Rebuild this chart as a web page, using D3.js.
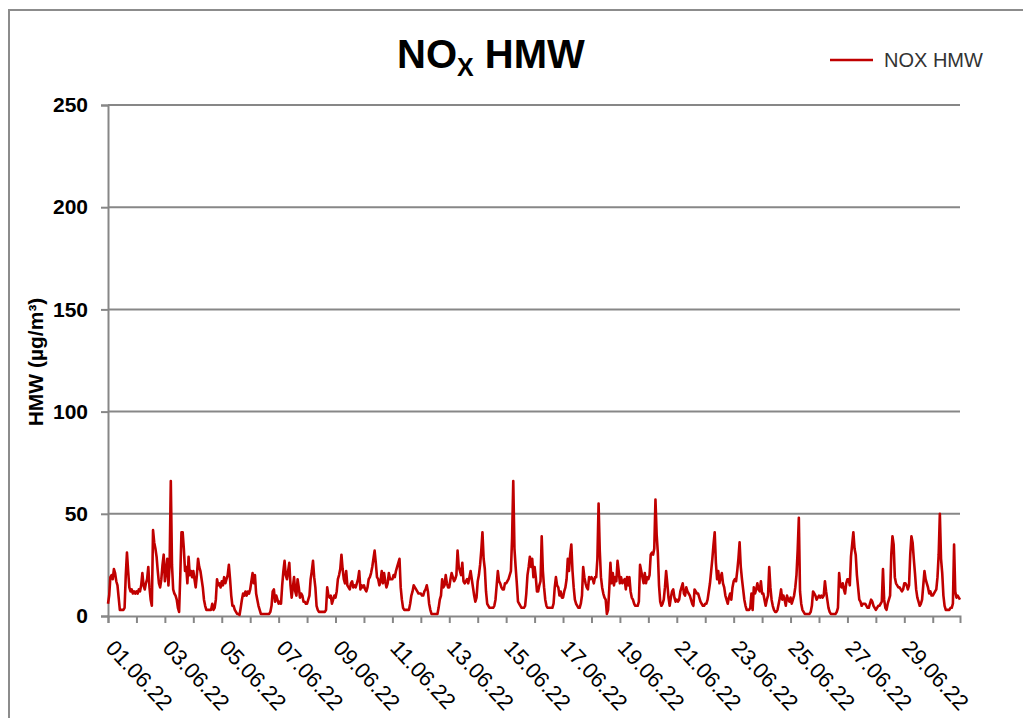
<!DOCTYPE html>
<html>
<head>
<meta charset="utf-8">
<script src="https://cdn.jsdelivr.net/npm/d3@7"></script>
<style>
  body { margin: 0; background: #fff; }
  svg { display: block; font-family: "Liberation Sans", Arial, sans-serif; }
</style>
</head>
<body>
<script>
// hourly NOx means, 01.06.22 00:00 onwards, one row per day
const startDate = "2022-06-01T00:00:00Z";
const seriesName = "NOX HMW";
const yTicks = [0, 50, 100, 150, 200, 250];
const labelEveryDays = 2;
const noxHourly = [
  6, 10, 19, 20, 18, 23, 21, 17, 15, 9, 3, 3, 3, 3, 4, 20, 31, 22, 14, 12, 13, 11, 12, 11,
  12, 11, 13, 12, 15, 21, 15, 13, 16, 18, 24, 14, 8, 5, 42, 36, 33, 29, 22, 16, 14, 18, 25, 30,
  17, 22, 28, 15, 25, 66, 25, 13, 11, 10, 8, 4, 2, 20, 41, 41, 33, 22, 24, 16, 29, 20, 22, 19,
  22, 18, 14, 20, 28, 24, 22, 18, 14, 8, 5, 3, 3, 3, 3, 3, 6, 3, 4, 8, 18, 15, 16, 14,
  17, 15, 19, 16, 18, 20, 25, 18, 10, 5, 5, 3, 2, 1, 1, 0.5, 4, 8, 11, 10, 12, 10, 12, 11,
  13, 17, 21, 16, 20, 11, 8, 5, 3, 1, 1, 1, 1, 1, 1, 1, 1, 2, 5, 12, 13, 7, 10, 8,
  6, 7, 6, 15, 22, 27, 20, 18, 22, 26, 15, 9, 14, 19, 12, 10, 18, 14, 9, 11, 10, 7, 7, 6,
  6, 8, 10, 18, 22, 27, 19, 14, 5, 3, 2, 2, 2, 2, 2, 2, 3, 14, 10, 9, 10, 6, 8, 10,
  9, 12, 18, 20, 23, 30, 23, 18, 16, 22, 15, 14, 13, 16, 17, 14, 15, 14, 16, 18, 22, 13, 15, 14,
  15, 13, 12, 14, 18, 19, 21, 24, 28, 32, 26, 19, 18, 15, 17, 22, 16, 21, 17, 14, 16, 21, 18, 18,
  18, 20, 19, 22, 24, 26, 28, 14, 8, 4, 3, 3, 3, 3, 3, 6, 10, 12, 15, 14, 13, 12, 11, 11,
  11, 10, 10, 12, 13, 15, 12, 6, 3, 1, 1, 1, 1, 1, 1, 4, 8, 10, 18, 14, 15, 20, 16, 14,
  14, 18, 21, 19, 17, 18, 20, 32, 24, 22, 20, 26, 17, 16, 17, 18, 16, 19, 22, 18, 14, 10, 7, 9,
  17, 20, 25, 32, 41, 28, 23, 12, 6, 5, 4, 4, 4, 4, 5, 8, 15, 22, 17, 16, 14, 13, 13, 16,
  16, 17, 18, 20, 22, 38, 66, 33, 24, 16, 7, 6, 5, 4, 4, 4, 5, 11, 20, 24, 29, 24, 28, 19,
  24, 19, 12, 12, 15, 17, 39, 22, 14, 8, 5, 4, 4, 4, 4, 4, 6, 14, 19, 15, 14, 10, 12, 9,
  9, 12, 14, 18, 28, 22, 30, 35, 22, 14, 8, 6, 5, 4, 4, 6, 10, 24, 19, 16, 14, 13, 19, 18,
  19, 18, 16, 19, 19, 28, 55, 32, 19, 14, 11, 9, 8, 1, 3, 13, 26, 16, 21, 15, 19, 17, 27, 22,
  16, 19, 16, 17, 18, 13, 19, 15, 19, 12, 9, 8, 6, 5, 5, 5, 7, 25, 22, 19, 16, 21, 16, 19,
  18, 20, 30, 31, 30, 33, 57, 40, 31, 15, 7, 5, 6, 8, 14, 22, 16, 9, 5, 9, 12, 13, 9, 7,
  8, 7, 8, 12, 14, 16, 11, 10, 14, 12, 11, 10, 8, 6, 5, 13, 12, 11, 11, 9, 7, 6, 5, 5,
  6, 6, 8, 12, 16, 22, 28, 35, 41, 26, 18, 22, 16, 19, 21, 16, 14, 10, 8, 6, 9, 11, 8, 14,
  17, 18, 17, 22, 28, 36, 24, 18, 13, 8, 5, 3, 3, 3, 4, 11, 3, 14, 11, 13, 16, 13, 12, 17,
  11, 11, 8, 5, 8, 10, 24, 14, 8, 5, 3, 2, 2, 3, 6, 9, 13, 8, 10, 8, 5, 10, 8, 7,
  9, 6, 8, 10, 14, 20, 32, 48, 12, 6, 3, 2, 1, 1, 1, 1, 1, 2, 5, 12, 11, 10, 8, 9,
  10, 9, 10, 9, 10, 17, 12, 8, 4, 2, 1, 1, 1, 1, 1, 2, 4, 21, 15, 14, 16, 13, 11, 16,
  18, 18, 15, 29, 35, 41, 33, 30, 20, 14, 8, 7, 5, 6, 6, 6, 5, 4, 4, 6, 8, 7, 5, 4,
  3, 4, 5, 5, 6, 7, 23, 8, 4, 3, 6, 8, 10, 30, 39, 35, 19, 16, 15, 14, 14, 13, 12, 13,
  16, 16, 15, 13, 15, 30, 39, 36, 28, 21, 13, 9, 7, 5, 6, 8, 15, 22, 18, 16, 14, 11, 12, 10,
  10, 11, 12, 13, 19, 30, 50, 28, 21, 10, 5, 3, 3, 3, 3, 4, 4, 6, 35, 12, 9, 10, 9, 8
];

const svgWidth = 1023, svgHeight = 718;
const plot = { left: 108, right: 960, top: 105, bottom: 616 };
const gridColor = "#878787";
const lineColor = "#c00000";

const t0 = new Date(startDate);
const times = noxHourly.map((v, i) => d3.utcHour.offset(t0, i));
const tLast = times[times.length - 1];

const svg = d3.select("body").append("svg")
    .attr("width", svgWidth)
    .attr("height", svgHeight);

// chart frame (only top and left edges visible)
svg.append("path")
    .attr("d", `M9,${svgHeight} V10 H${svgWidth}`)
    .attr("fill", "none")
    .attr("stroke", "#8c8c8c")
    .attr("stroke-width", 2);

const x = d3.scaleUtc()
    .domain([t0, tLast])
    .range([plot.left, plot.right]);

const y = d3.scaleLinear()
    .domain([0, 250])
    .range([plot.bottom, plot.top]);

// horizontal gridlines
svg.append("g")
    .selectAll("line")
    .data(yTicks.filter(d => d > 0))
    .enter().append("line")
    .attr("x1", plot.left)
    .attr("x2", plot.right)
    .attr("y1", d => y(d))
    .attr("y2", d => y(d))
    .attr("stroke", gridColor)
    .attr("stroke-width", 2);

// y axis
const yAxis = svg.append("g")
    .attr("transform", `translate(${plot.left},0)`)
    .call(d3.axisLeft(y).tickValues(yTicks).tickSize(7).tickPadding(13));
yAxis.select(".domain").attr("stroke", gridColor).attr("stroke-width", 2);
yAxis.selectAll(".tick line").attr("stroke", gridColor).attr("stroke-width", 2);
yAxis.selectAll(".tick text")
    .attr("font-family", "Liberation Sans, Arial, sans-serif")
    .attr("font-size", 21)
    .attr("font-weight", "bold")
    .attr("fill", "#000");

// x axis: tick every day, label every second day
const dayTicks = d3.utcDay.range(t0, tLast);
const fmt = d3.utcFormat("%d.%m.%y");
const xAxis = svg.append("g")
    .attr("transform", `translate(0,${plot.bottom})`)
    .call(d3.axisBottom(x).tickValues(dayTicks).tickSize(7)
        .tickFormat((d, i) => i % labelEveryDays === 0 ? fmt(d) : ""));
xAxis.select(".domain").attr("stroke", gridColor).attr("stroke-width", 2);
xAxis.selectAll(".tick line").attr("stroke", gridColor).attr("stroke-width", 2);
xAxis.selectAll(".tick text")
    .attr("font-family", "Liberation Sans, Arial, sans-serif")
    .attr("font-size", 22)
    .attr("fill", "#000")
    .attr("text-anchor", "start")
    .attr("y", 0)
    .attr("dy", 0)
    .attr("transform", "translate(-4,33) rotate(47)");

// data line
const line = d3.line()
    .x((d, i) => x(times[i]))
    .y(d => y(d));

svg.append("path")
    .datum(noxHourly)
    .attr("d", line)
    .attr("fill", "none")
    .attr("stroke", lineColor)
    .attr("stroke-width", 2.6)
    .attr("stroke-linejoin", "round");

// title with subscript
const title = svg.append("text")
    .attr("x", 397)
    .attr("y", 68)
    .attr("font-weight", "bold")
    .attr("font-size", 40)
    .attr("fill", "#000");
title.append("tspan").text("NO");
title.append("tspan").attr("font-size", 25).attr("dy", 8).text("X");
title.append("tspan").attr("dy", -8).text(" HMW");

// y axis title
svg.append("text")
    .attr("transform", `translate(43,362) rotate(-90)`)
    .attr("text-anchor", "middle")
    .attr("font-weight", "bold")
    .attr("font-size", 21)
    .attr("fill", "#000")
    .text("HMW (µg/m³)");

// legend
svg.append("line")
    .attr("x1", 830).attr("x2", 873)
    .attr("y1", 60).attr("y2", 60)
    .attr("stroke", lineColor)
    .attr("stroke-width", 2.6);
svg.append("text")
    .attr("x", 884)
    .attr("y", 67)
    .attr("font-size", 20)
    .attr("fill", "#333")
    .text(seriesName);
</script>
</body>
</html>
